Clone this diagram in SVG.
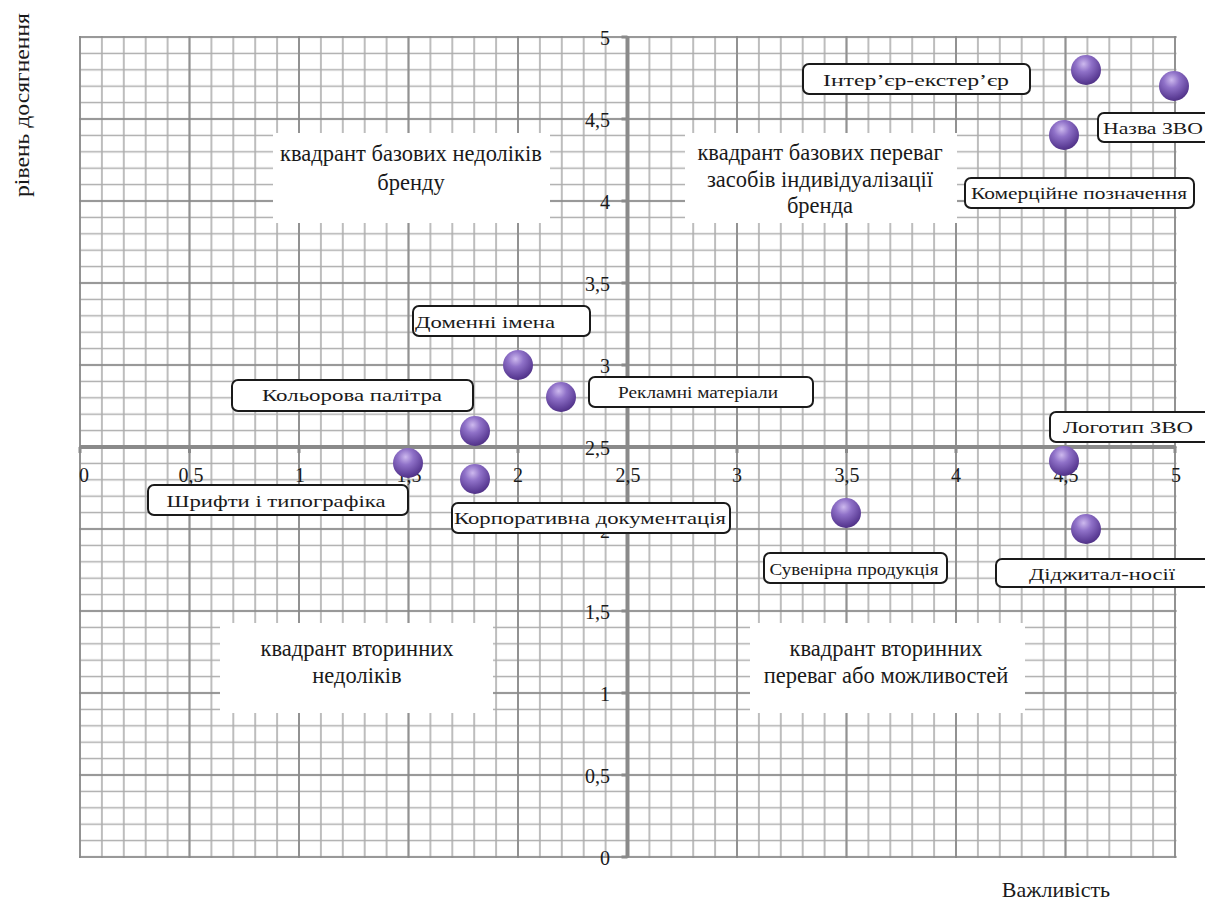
<svg xmlns="http://www.w3.org/2000/svg" width="1205" height="902" viewBox="0 0 1205 902">
<style>
.t{font-family:"Liberation Serif","Times New Roman",serif;fill:#1a1a1a}
.tick{font-size:20px}
.q{font-size:22.5px;text-anchor:middle}
.lbl{font-size:17px;text-anchor:middle}
.box{fill:#ffffff;stroke:#1a1a1a;stroke-width:2}
.qbox{fill:#ffffff}
.axis{stroke:#8a8a8a;stroke-width:4;fill:none}
.tk{stroke:#8a8a8a;stroke-width:3}
.pt{fill:url(#sph)}
</style>
<defs>
<pattern id="minor" patternUnits="userSpaceOnUse" x="69.05" y="28.8" width="21.9" height="16.4">
<path d="M10.95,0V16.4M0,8.2H21.9" stroke="#adadad" stroke-width="1.6" fill="none"/>
</pattern>
<pattern id="major" patternUnits="userSpaceOnUse" x="25.25" y="-4" width="109.5" height="82">
<path d="M54.75,0V82M0,41H109.5" stroke="#888888" stroke-width="1.6" fill="none"/>
</pattern>
<radialGradient id="sph" cx="0.42" cy="0.3" r="0.75">
<stop offset="0" stop-color="#cdb9ee"/>
<stop offset="0.35" stop-color="#8f71c8"/>
<stop offset="0.8" stop-color="#5e3f98"/>
<stop offset="1" stop-color="#4a2c7e"/>
</radialGradient>
</defs>
<rect width="1205" height="902" fill="#ffffff"/>
<g id="grid">
<rect x="79" y="36" width="1097.5" height="822" fill="url(#minor)"/>
<rect x="79" y="36" width="1097.5" height="822" fill="url(#major)"/>
</g>
<g id="quadrants">
<g id="q1"><rect class="qbox" x="273" y="133" width="277" height="90"/>
<text class="t q" x="411" y="161">квадрант базових недоліків</text>
<text class="t q" x="411" y="190">бренду</text></g>
<g id="q2"><rect class="qbox" x="685" y="133" width="272" height="90"/>
<text class="t q" x="820" y="160">квадрант базових переваг</text>
<text class="t q" x="820" y="187">засобів індивідуалізації</text>
<text class="t q" x="820" y="213">бренда</text></g>
<g id="q3"><rect class="qbox" x="220" y="623" width="273" height="90"/>
<text class="t q" x="357" y="656">квадрант вторинних</text>
<text class="t q" x="357" y="683">недоліків</text></g>
<g id="q4"><rect class="qbox" x="750" y="623" width="275" height="90"/>
<text class="t q" x="886" y="656">квадрант вторинних</text>
<text class="t q" x="886" y="683">переваг або можливостей</text></g>
</g>
<g id="axes">
<path class="axis" d="M80,447H1175M627.5,37V857"/>
<path class="tk" d="M80,447v6M189.5,447v6M299,447v6M408.5,447v6M518,447v6M737,447v6M846.5,447v6M956,447v6M1065.5,447v6M1175,447v6"/>
<path class="tk" d="M627.5,37h-6M627.5,119h-6M627.5,201h-6M627.5,283h-6M627.5,365h-6M627.5,529h-6M627.5,611h-6M627.5,693h-6M627.5,775h-6M627.5,857h-6"/>
<g class="t tick" text-anchor="middle">
<text x="84" y="482">0</text>
<text x="191" y="482">0,5</text>
<text x="300" y="482">1</text>
<text x="409" y="482">1,5</text>
<text x="518" y="482">2</text>
<text x="628" y="482">2,5</text>
<text x="737" y="482">3</text>
<text x="847" y="482">3,5</text>
<text x="956" y="482">4</text>
<text x="1066" y="482">4,5</text>
<text x="1176" y="482">5</text>
</g>
<g class="t tick" text-anchor="end">
<text x="610" y="45">5</text>
<text x="610" y="127">4,5</text>
<text x="610" y="209">4</text>
<text x="610" y="291">3,5</text>
<text x="610" y="373">3</text>
<text x="610" y="455">2,5</text>
<text x="610" y="538">2</text>
<text x="610" y="619">1,5</text>
<text x="610" y="701">1</text>
<text x="610" y="783">0,5</text>
<text x="610" y="865">0</text>
</g>
<text class="t" font-size="21" text-anchor="middle" textLength="184" lengthAdjust="spacingAndGlyphs" transform="translate(29,105) rotate(-90)">рівень досягнення</text>
<text class="t" font-size="22" text-anchor="middle" x="1056" y="897">Важливість</text>
</g>
<g id="points">
<circle id="p-interier" class="pt" cx="1086" cy="70" r="15"/>
<circle id="p-nazva" class="pt" cx="1174" cy="86" r="15"/>
<circle id="p-komerc" class="pt" cx="1064" cy="135" r="15"/>
<circle id="p-domen" class="pt" cx="518" cy="365" r="15"/>
<circle id="p-reklam" class="pt" cx="561" cy="397" r="15"/>
<circle id="p-kolir" class="pt" cx="475" cy="431" r="15"/>
<circle id="p-shryft" class="pt" cx="408" cy="463" r="15"/>
<circle id="p-korp" class="pt" cx="475" cy="479" r="15"/>
<circle id="p-suven" class="pt" cx="846" cy="513" r="15"/>
<circle id="p-logo" class="pt" cx="1064" cy="461" r="15"/>
<circle id="p-digital" class="pt" cx="1086" cy="529" r="15"/>
</g>
<g id="labels">
<g id="l-interier"><rect class="box" x="803" y="64" width="227" height="30" rx="6"/>
<text class="t lbl" x="916" y="86" textLength="186" lengthAdjust="spacingAndGlyphs">Інтер’єр-екстер’єр</text></g>
<g id="l-nazva"><rect class="box" x="1098" y="113" width="115" height="29" rx="6"/>
<text class="t lbl" x="1153" y="134" textLength="100" lengthAdjust="spacingAndGlyphs">Назва ЗВО</text></g>
<g id="l-komerc"><rect class="box" x="965" y="178" width="229" height="30" rx="6"/>
<text class="t lbl" x="1079" y="199" textLength="216" lengthAdjust="spacingAndGlyphs">Комерційне позначення</text></g>
<g id="l-domen"><rect class="box" x="413" y="306" width="177" height="30" rx="6"/>
<text class="t lbl" x="485" y="328" textLength="140" lengthAdjust="spacingAndGlyphs">Доменні імена</text></g>
<g id="l-kolir"><rect class="box" x="232" y="380" width="241" height="31" rx="6"/>
<text class="t lbl" x="352" y="401" textLength="180" lengthAdjust="spacingAndGlyphs">Кольорова палітра</text></g>
<g id="l-reklam"><rect class="box" x="589" y="377" width="224" height="30" rx="6"/>
<text class="t lbl" x="698" y="398" textLength="160" lengthAdjust="spacingAndGlyphs" font-size="15">Рекламні матеріали</text></g>
<g id="l-shryft"><rect class="box" x="148" y="485" width="260" height="30" rx="6"/>
<text class="t lbl" x="276" y="507" textLength="219" lengthAdjust="spacingAndGlyphs">Шрифти і типографіка</text></g>
<g id="l-korp"><rect class="box" x="452" y="503" width="278" height="30" rx="6"/>
<text class="t lbl" x="590" y="524" textLength="272" lengthAdjust="spacingAndGlyphs">Корпоративна документація</text></g>
<g id="l-logo"><rect class="box" x="1050" y="412" width="160" height="30" rx="6"/>
<text class="t lbl" x="1128" y="433" textLength="130" lengthAdjust="spacingAndGlyphs">Логотип ЗВО</text></g>
<g id="l-suven"><rect class="box" x="764" y="553" width="183" height="30" rx="6"/>
<text class="t lbl" x="854" y="575" textLength="169" lengthAdjust="spacingAndGlyphs" font-size="15">Сувенірна продукція</text></g>
<g id="l-digital"><rect class="box" x="996" y="559" width="214" height="28" rx="6"/>
<text class="t lbl" x="1102" y="580" textLength="146" lengthAdjust="spacingAndGlyphs">Діджитал-носії</text></g>
</g>
</svg>
